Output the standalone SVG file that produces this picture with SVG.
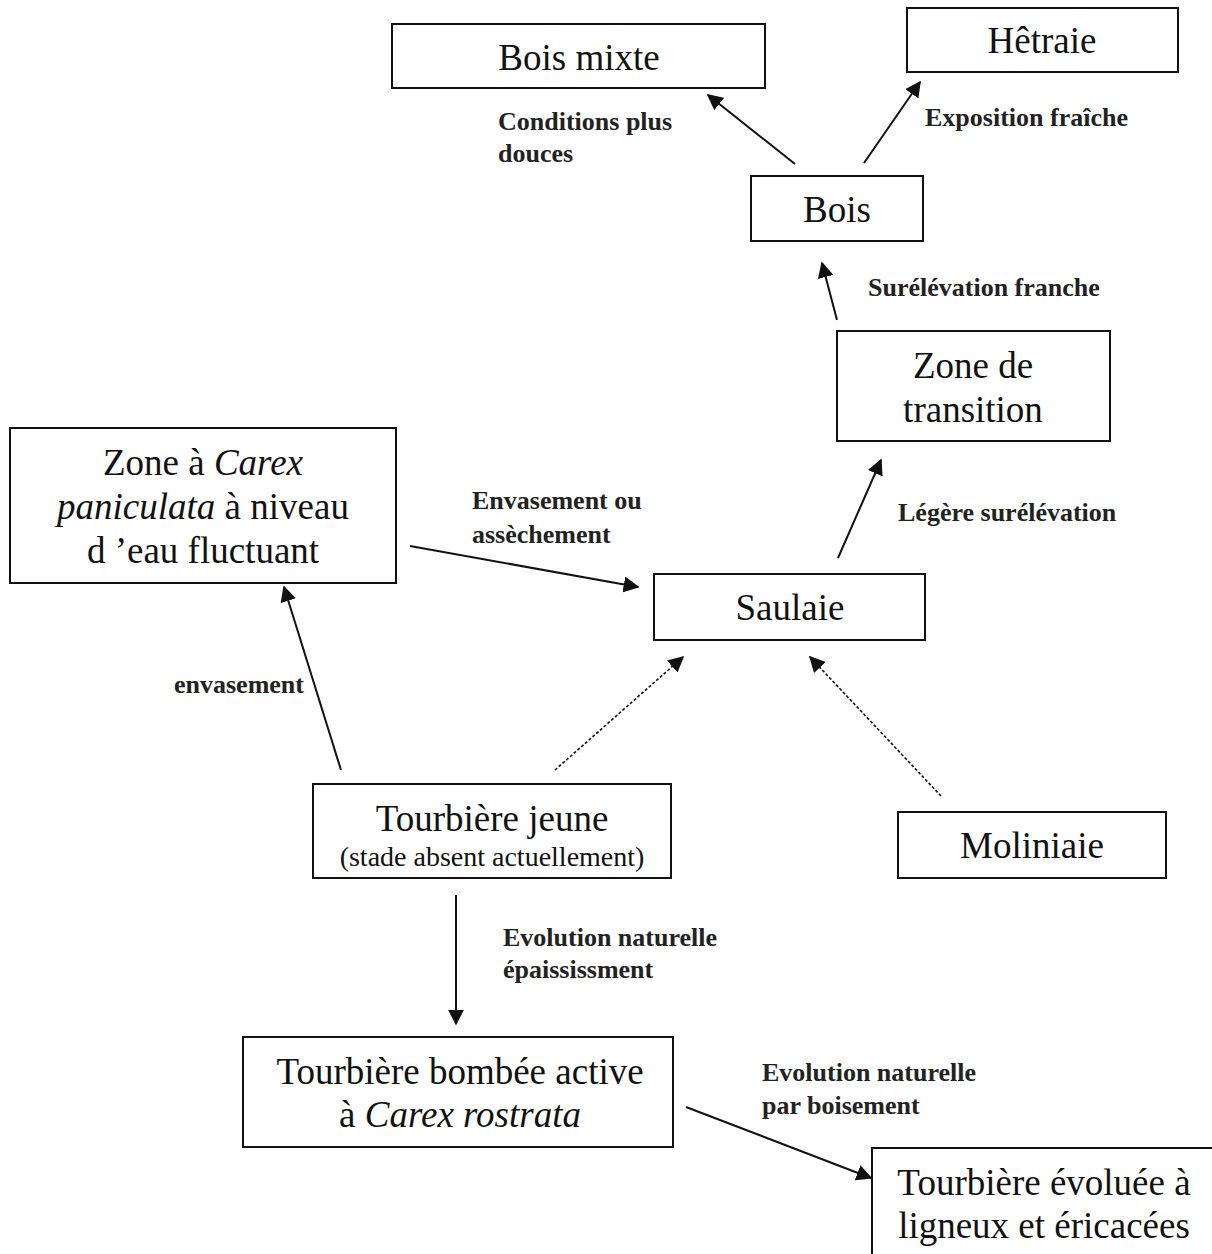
<svg xmlns="http://www.w3.org/2000/svg" width="1212" height="1254" viewBox="0 0 1212 1254">
<defs>
<style>
text{font-family:"Liberation Serif","DejaVu Serif","Times New Roman",serif}
.box{fill:#fff;stroke:#111;stroke-width:2}
.t{font-size:37px;fill:#111;text-anchor:middle}
.s{font-size:28px;fill:#111;text-anchor:middle}
.l{font-size:26px;font-weight:bold;fill:#222}
.a{stroke:#111;stroke-width:2;fill:none;marker-end:url(#ah)}
.d{stroke:#111;stroke-width:1.6;fill:none;stroke-dasharray:3 2;marker-end:url(#ah)}
</style>
<marker id="ah" viewBox="0 0 10 10" refX="9" refY="5" markerWidth="16" markerHeight="16" markerUnits="userSpaceOnUse" orient="auto">
<path d="M0,0 L10,5 L0,10 Z" fill="#111"/>
</marker>
</defs>
<rect width="1212" height="1254" fill="#fff"/>
<g id="connectors">
<line class="a" x1="795" y1="164" x2="708" y2="95"/>
<line class="a" x1="864" y1="163" x2="920" y2="82"/>
<line class="a" x1="837" y1="320" x2="822" y2="263"/>
<line class="a" x1="838" y1="558" x2="881" y2="460"/>
<line class="a" x1="410" y1="546" x2="638" y2="587"/>
<line class="a" x1="341" y1="770" x2="284" y2="587"/>
<line class="d" x1="555" y1="770" x2="683" y2="657"/>
<line class="d" x1="941" y1="796" x2="810" y2="657"/>
<line class="a" x1="456" y1="895" x2="456" y2="1024"/>
<line class="a" x1="686" y1="1107" x2="871" y2="1178"/>
</g>
<g id="labels">
<text class="l" x="498" y="130">Conditions plus</text>
<text class="l" x="498" y="162">douces</text>
<text class="l" x="925" y="126">Exposition fraîche</text>
<text class="l" x="868" y="296">Surélévation franche</text>
<text class="l" x="472" y="509">Envasement ou</text>
<text class="l" x="472" y="543">assèchement</text>
<text class="l" x="898" y="521">Légère surélévation</text>
<text class="l" x="174" y="693">envasement</text>
<text class="l" x="503" y="946">Evolution naturelle</text>
<text class="l" x="503" y="978">épaississment</text>
<text class="l" x="762" y="1081">Evolution naturelle</text>
<text class="l" x="762" y="1114">par boisement</text>
</g>
<g id="bois-mixte">
<rect class="box" x="392" y="24" width="373" height="64"/>
<text class="t" x="579" y="70">Bois mixte</text>
</g>
<g id="hetraie">
<rect class="box" x="907" y="8" width="271" height="64"/>
<text class="t" x="1042" y="53">Hêtraie</text>
</g>
<g id="bois">
<rect class="box" x="751" y="176" width="172" height="65"/>
<text class="t" x="837" y="222">Bois</text>
</g>
<g id="zone-transition">
<rect class="box" x="837" y="331" width="273" height="110"/>
<text class="t" x="973" y="378">Zone de</text>
<text class="t" x="973" y="422">transition</text>
</g>
<g id="zone-carex">
<rect class="box" x="10" y="428" width="386" height="155"/>
<text class="t" x="203" y="475">Zone à <tspan font-style="italic">Carex</tspan></text>
<text class="t" x="203" y="519"><tspan font-style="italic">paniculata</tspan> à niveau</text>
<text class="t" x="203" y="563">d ’eau fluctuant</text>
</g>
<g id="saulaie">
<rect class="box" x="654" y="574" width="271" height="66"/>
<text class="t" x="790" y="620">Saulaie</text>
</g>
<g id="tourbiere-jeune">
<rect class="box" x="313" y="784" width="358" height="94"/>
<text class="t" x="492" y="831">Tourbière jeune</text>
<text class="s" x="492" y="866">(stade absent actuellement)</text>
</g>
<g id="moliniaie">
<rect class="box" x="898" y="812" width="268" height="66"/>
<text class="t" x="1032" y="858">Moliniaie</text>
</g>
<g id="tourbiere-bombee">
<rect class="box" x="243" y="1037" width="430" height="110"/>
<text class="t" x="460" y="1084">Tourbière bombée active</text>
<text class="t" x="460" y="1127">à <tspan font-style="italic">Carex rostrata</tspan></text>
</g>
<g id="tourbiere-evoluee">
<rect class="box" x="872" y="1148" width="345" height="120"/>
<text class="t" x="1044" y="1195">Tourbière évoluée à</text>
<text class="t" x="1044" y="1238">ligneux et éricacées</text>
</g>
</svg>
